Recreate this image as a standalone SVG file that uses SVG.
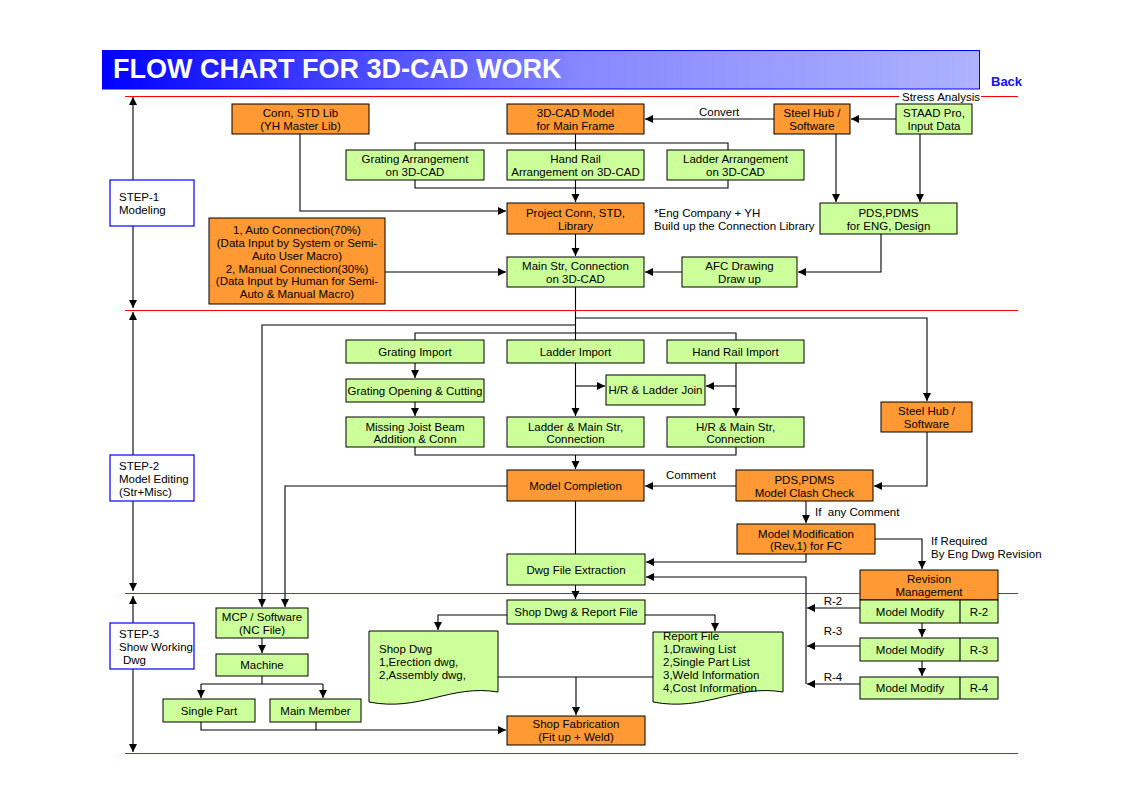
<svg xmlns="http://www.w3.org/2000/svg" width="1135" height="803" viewBox="0 0 1135 803">
<defs>
<linearGradient id="hdr" x1="0" y1="0" x2="1" y2="0">
<stop offset="0" stop-color="#0000FF"/>
<stop offset="0.55" stop-color="#8888FF"/>
<stop offset="1" stop-color="#AEB2FF"/>
</linearGradient>
<marker id="ah" markerUnits="userSpaceOnUse" markerWidth="9" markerHeight="9" refX="8" refY="4" orient="auto">
<path d="M0,0 L8,4 L0,8 z" fill="#000"/>
</marker>
</defs>
<style>
text{font-family:"Liberation Sans",Arial,sans-serif;font-size:11.5px;fill:#000}
.c{text-anchor:middle}
.o{fill:#FF9933;stroke:#000;stroke-width:1}
.g{fill:#CCFF99;stroke:#000;stroke-width:1}
.s{fill:#fff;stroke:#0000FF;stroke-width:1.2}
.ln{fill:none;stroke:#000;stroke-width:1.1}
.a{marker-end:url(#ah)}
.red{stroke:#FF0000;stroke-width:1.2}
</style>
<rect width="1135" height="803" fill="#fff"/>
<g id="header">
<rect x="102.5" y="50.5" width="877" height="38.5" fill="url(#hdr)" stroke="#0000FF" stroke-width="1"/>
<text x="113" y="78" style="font-size:27px;font-weight:bold;fill:#fff">FLOW CHART FOR 3D-CAD WORK</text>
<text x="991" y="86" style="font-size:13px;font-weight:bold;fill:#1010F0">Back</text>
</g>
<g id="dividers">
<line class="red" x1="125" y1="96.5" x2="1018" y2="96.5"/>
<line class="red" x1="125" y1="310.5" x2="1018" y2="310.5"/>
<line class="red" x1="125" y1="593.5" x2="1018" y2="593.5"/>
<line class="red" x1="125" y1="753.5" x2="1018" y2="753.5"/>
<rect x="899" y="90" width="82" height="13" fill="#fff"/>
<text x="902" y="101">Stress Analysis</text>
</g>
<g id="connectors">
<line class="ln a" x1="133" y1="200" x2="133" y2="97"/>
<line class="ln a" x1="133" y1="200" x2="133" y2="308"/>
<line class="ln a" x1="133" y1="470" x2="133" y2="312"/>
<line class="ln a" x1="133" y1="470" x2="133" y2="591"/>
<line class="ln a" x1="133" y1="650" x2="133" y2="596"/>
<line class="ln a" x1="133" y1="650" x2="133" y2="752"/>
<line class="ln a" x1="896" y1="119" x2="851" y2="119"/>
<line class="ln a" x1="774" y1="119" x2="645" y2="119"/>
<polyline class="ln a" points="300,134 300,211 506,211"/>
<line class="ln" x1="575.5" y1="134" x2="575.5" y2="150"/>
<polyline class="ln" points="415,150 415,143 728,143 728,150"/>
<polyline class="ln" points="415,180 415,188 728,188 728,180"/>
<line class="ln a" x1="575.5" y1="180" x2="575.5" y2="202"/>
<line class="ln a" x1="575.5" y1="234" x2="575.5" y2="256"/>
<line class="ln a" x1="836" y1="134" x2="836" y2="202"/>
<line class="ln a" x1="920" y1="134" x2="920" y2="202"/>
<polyline class="ln a" points="881,234 881,272 798,272"/>
<line class="ln a" x1="682" y1="272" x2="645" y2="272"/>
<line class="ln a" x1="385" y1="272" x2="506" y2="272"/>
<line class="ln" x1="575.5" y1="287" x2="575.5" y2="340"/>
<polyline class="ln a" points="575.5,318 927,318 927,401"/>
<polyline class="ln a" points="575.5,325 262,325 262,607"/>
<polyline class="ln" points="415,340 415,333 736,333 736,340"/>
<line class="ln a" x1="415" y1="363" x2="415" y2="378"/>
<line class="ln a" x1="415" y1="402" x2="415" y2="416"/>
<line class="ln a" x1="575.5" y1="363" x2="575.5" y2="416"/>
<line class="ln a" x1="575.5" y1="386" x2="605" y2="386"/>
<line class="ln a" x1="736" y1="363" x2="736" y2="416"/>
<line class="ln a" x1="736" y1="386" x2="706" y2="386"/>
<polyline class="ln" points="415,447 415,455 736,455 736,447"/>
<line class="ln a" x1="575.5" y1="455" x2="575.5" y2="469"/>
<polyline class="ln a" points="927,432 927,486 874,486"/>
<line class="ln a" x1="736" y1="486" x2="645" y2="486"/>
<polyline class="ln a" points="507,486 285,486 285,607"/>
<line class="ln" x1="575.5" y1="501" x2="575.5" y2="554"/>
<line class="ln a" x1="806" y1="501" x2="806" y2="523"/>
<polyline class="ln a" points="806,554 806,562 646,562"/>
<polyline class="ln a" points="875,539 922,539 922,569"/>
<polyline class="ln a" points="806,684 806,577 646,577"/>
<line class="ln a" x1="860" y1="608" x2="807" y2="608"/>
<line class="ln a" x1="860" y1="646" x2="807" y2="646"/>
<line class="ln a" x1="860" y1="684" x2="807" y2="684"/>
<line class="ln a" x1="922" y1="623" x2="922" y2="637"/>
<line class="ln a" x1="922" y1="661" x2="922" y2="676"/>
<line class="ln a" x1="575.5" y1="585" x2="575.5" y2="599"/>
<polyline class="ln a" points="645,615 715,615 715,631"/>
<polyline class="ln a" points="507,615 438,615 438,630"/>
<line class="ln" x1="498" y1="677" x2="653" y2="677"/>
<line class="ln a" x1="576" y1="677" x2="576" y2="715"/>
<line class="ln a" x1="262" y1="638" x2="262" y2="653"/>
<line class="ln" x1="262" y1="676" x2="262" y2="684"/>
<line class="ln" x1="201" y1="684" x2="323" y2="684"/>
<line class="ln a" x1="201" y1="684" x2="201" y2="698"/>
<line class="ln a" x1="323" y1="684" x2="323" y2="698"/>
<polyline class="ln a" points="201,722 201,730 506,730"/>
<line class="ln" x1="316" y1="722" x2="316" y2="730"/>
<text x="699" y="116">Convert</text>
<text x="666" y="479">Comment</text>
<text x="815" y="516">If &#160;any Comment</text>
<text x="931" y="545">If Required</text>
<text x="931" y="558">By Eng Dwg Revision</text>
<text x="833" y="605" class="c">R-2</text>
<text x="833" y="635" class="c">R-3</text>
<text x="833" y="681" class="c">R-4</text>
<text x="654" y="217">*Eng Company + YH</text>
<text x="654" y="230">Build up the Connection Library</text>
</g>
<g id="step1"><rect class="s" x="110" y="180" width="84" height="46"/><text x="119" y="201">STEP-1</text><text x="119" y="214">Modeling</text></g>
<g id="step2"><rect class="s" x="110" y="455" width="84" height="46"/><text x="119" y="470">STEP-2</text><text x="119" y="483">Model Editing</text><text x="119" y="496">(Str+Misc)</text></g>
<g id="step3"><rect class="s" x="110" y="623" width="84" height="46"/><text x="119" y="638">STEP-3</text><text x="119" y="651">Show Working</text><text x="123" y="664">Dwg</text></g>
<g id="connStdLib"><rect class="o" x="232" y="104" width="137" height="30"/><text class="c" x="300.5" y="117">Conn, STD Lib</text><text class="c" x="300.5" y="130">(YH Master Lib)</text></g>
<g id="cadModel"><rect class="o" x="507" y="104" width="137" height="30"/><text class="c" x="575.5" y="117">3D-CAD Model</text><text class="c" x="575.5" y="130">for Main Frame</text></g>
<g id="steelHub1"><rect class="o" x="774" y="104" width="76" height="30"/><text class="c" x="812" y="117">Steel Hub /</text><text class="c" x="812" y="130">Software</text></g>
<g id="staad"><rect class="g" x="896" y="104" width="76" height="30"/><text class="c" x="934" y="117">STAAD Pro,</text><text class="c" x="934" y="130">Input Data</text></g>
<g id="gratingArr"><rect class="g" x="346" y="150" width="138" height="30"/><text class="c" x="415" y="163">Grating Arrangement</text><text class="c" x="415" y="176">on 3D-CAD</text></g>
<g id="handRailArr"><rect class="g" x="507" y="150" width="137" height="30"/><text class="c" x="575.5" y="163">Hand Rail</text><text class="c" x="575.5" y="176">Arrangement on 3D-CAD</text></g>
<g id="ladderArr"><rect class="g" x="667" y="150" width="137" height="30"/><text class="c" x="735.5" y="163">Ladder Arrangement</text><text class="c" x="735.5" y="176">on 3D-CAD</text></g>
<g id="projectConn"><rect class="o" x="507" y="203" width="137" height="31"/><text class="c" x="575.5" y="217">Project Conn, STD,</text><text class="c" x="575.5" y="230">Library</text></g>
<g id="pdsDesign"><rect class="g" x="820" y="203" width="137" height="31"/><text class="c" x="888.5" y="217">PDS,PDMS</text><text class="c" x="888.5" y="230">for ENG, Design</text></g>
<g id="autoConn"><rect class="o" x="209" y="218" width="176" height="86"/>
<text class="c" x="297" y="233.5">1, Auto Connection(70%)</text>
<text class="c" x="297" y="246.5">(Data Input by System or Semi-</text>
<text class="c" x="297" y="259.5">Auto User Macro)</text>
<text class="c" x="297" y="272.5">2, Manual Connection(30%)</text>
<text class="c" x="297" y="285">(Data Input by Human for Semi-</text>
<text class="c" x="297" y="297.5">Auto &amp; Manual Macro)</text></g>
<g id="mainStr"><rect class="g" x="507" y="257" width="137" height="30"/><text class="c" x="575.5" y="270">Main Str, Connection</text><text class="c" x="575.5" y="283">on 3D-CAD</text></g>
<g id="afc"><rect class="g" x="682" y="257" width="115" height="30"/><text class="c" x="739.5" y="270">AFC Drawing</text><text class="c" x="739.5" y="283">Draw up</text></g>
<g id="gratingImport"><rect class="g" x="346" y="340" width="138" height="23"/><text class="c" x="415" y="355.5">Grating Import</text></g>
<g id="ladderImport"><rect class="g" x="507" y="340" width="137" height="23"/><text class="c" x="575.5" y="355.5">Ladder Import</text></g>
<g id="handRailImport"><rect class="g" x="667" y="340" width="137" height="23"/><text class="c" x="735.5" y="355.5">Hand Rail Import</text></g>
<g id="gratingOpening"><rect class="g" x="346" y="379" width="138" height="23"/><text class="c" x="415" y="394.5">Grating Opening &amp; Cutting</text></g>
<g id="hrLadderJoin"><rect class="g" x="606" y="375" width="99" height="30"/><text class="c" x="655.5" y="394">H/R &amp; Ladder Join</text></g>
<g id="missingJoist"><rect class="g" x="346" y="417" width="138" height="30"/><text class="c" x="415" y="430.5">Missing Joist Beam</text><text class="c" x="415" y="443">Addition &amp; Conn</text></g>
<g id="ladderMain"><rect class="g" x="507" y="417" width="137" height="30"/><text class="c" x="575.5" y="430.5">Ladder &amp; Main Str,</text><text class="c" x="575.5" y="443">Connection</text></g>
<g id="hrMain"><rect class="g" x="667" y="417" width="137" height="30"/><text class="c" x="735.5" y="430.5">H/R &amp; Main Str,</text><text class="c" x="735.5" y="443">Connection</text></g>
<g id="steelHub2"><rect class="o" x="881" y="402" width="91" height="30"/><text class="c" x="926.5" y="415">Steel Hub /</text><text class="c" x="926.5" y="428">Software</text></g>
<g id="modelCompletion"><rect class="o" x="507" y="470" width="137" height="31"/><text class="c" x="575.5" y="490">Model Completion</text></g>
<g id="clashCheck"><rect class="o" x="736" y="470" width="137" height="31"/><text class="c" x="804.5" y="484">PDS,PDMS</text><text class="c" x="804.5" y="497">Model Clash Check</text></g>
<g id="modelMod"><rect class="o" x="737" y="524" width="138" height="30"/><text class="c" x="806" y="537.5">Model Modification</text><text class="c" x="806" y="550">(Rev,1) for FC</text></g>
<g id="dwgExtraction"><rect class="g" x="507" y="554" width="138" height="31"/><text class="c" x="576" y="574">Dwg File Extraction</text></g>
<g id="revisionMgmt"><rect class="o" x="860" y="570" width="138" height="30"/><text class="c" x="929" y="583">Revision</text><text class="c" x="929" y="596">Management</text></g>
<g id="modR2"><rect class="g" x="860" y="600" width="138" height="23"/><line class="ln" x1="960" y1="600" x2="960" y2="623"/><text class="c" x="910" y="615.5">Model Modify</text><text class="c" x="979" y="615.5">R-2</text></g>
<g id="modR3"><rect class="g" x="860" y="638" width="138" height="23"/><line class="ln" x1="960" y1="638" x2="960" y2="661"/><text class="c" x="910" y="653.5">Model Modify</text><text class="c" x="979" y="653.5">R-3</text></g>
<g id="modR4"><rect class="g" x="860" y="677" width="138" height="22"/><line class="ln" x1="960" y1="677" x2="960" y2="699"/><text class="c" x="910" y="692">Model Modify</text><text class="c" x="979" y="692">R-4</text></g>
<g id="shopDwgReport"><rect class="g" x="507" y="600" width="138" height="24"/><text class="c" x="576" y="616">Shop Dwg &amp; Report File</text></g>
<g id="mcp"><rect class="g" x="216" y="608" width="92" height="30"/><text class="c" x="262" y="621">MCP / Software</text><text class="c" x="262" y="634">(NC File)</text></g>
<g id="machine"><rect class="g" x="216" y="654" width="92" height="22"/><text class="c" x="262" y="669">Machine</text></g>
<g id="singlePart"><rect class="g" x="163" y="699" width="92" height="23"/><text class="c" x="209" y="714.5">Single Part</text></g>
<g id="mainMember"><rect class="g" x="270" y="699" width="91" height="23"/><text class="c" x="315.5" y="714.5">Main Member</text></g>
<g id="shopDwgDoc"><path class="g" d="M369,631 H498 V692 C450,684 420,712 369,702 Z"/><text x="379" y="653">Shop Dwg</text><text x="379" y="666">1,Erection dwg,</text><text x="379" y="679">2,Assembly dwg,</text></g>
<g id="reportDoc"><path class="g" d="M653,632 H783 V692 C735,684 705,712 653,702 Z"/>
<text x="663" y="640">Report File</text><text x="663" y="653">1,Drawing List</text><text x="663" y="666">2,Single Part List</text><text x="663" y="679">3,Weld Information</text><text x="663" y="692">4,Cost Information</text></g>
<g id="shopFab"><rect class="o" x="507" y="716" width="138" height="29"/><text class="c" x="576" y="728">Shop Fabrication</text><text class="c" x="576" y="741">(Fit up + Weld)</text></g>
</svg>
